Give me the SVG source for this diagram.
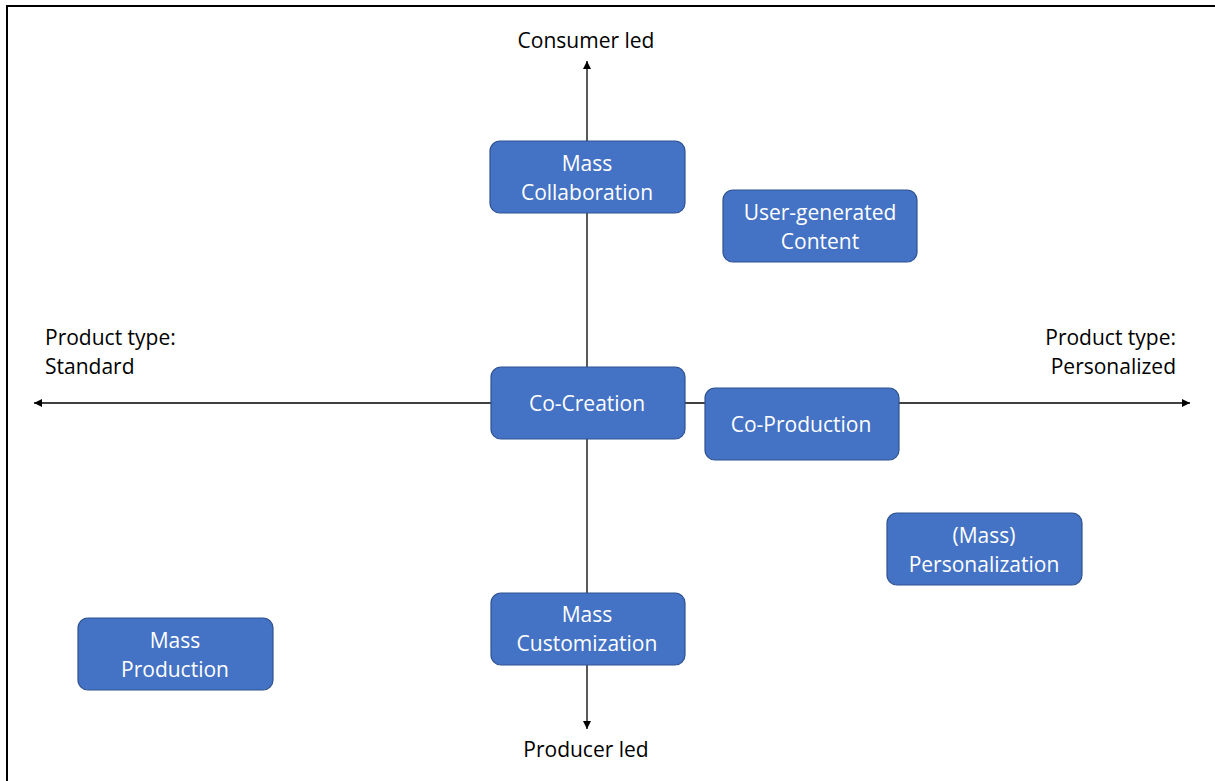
<svg xmlns="http://www.w3.org/2000/svg" width="1215" height="781" viewBox="0 0 1215 781">
  <defs>
    <marker id="arrow" viewBox="0 0 10 10" refX="10" refY="5" markerWidth="8" markerHeight="8" markerUnits="userSpaceOnUse" orient="auto-start-reverse">
      <path d="M0,0 L10,5 L0,10 Z" fill="#000"/>
    </marker>
    <style>
      .box { fill: #4472C4; stroke: #2F528F; stroke-width: 1.2; }
      .lbl { font-family: "Open Sans", "Noto Sans", sans-serif; font-size: 21px; fill: #ffffff; text-anchor: middle; }
      .axis-lbl { font-family: "Open Sans", "Noto Sans", sans-serif; font-size: 21px; fill: #000000; }
      .axis { stroke: #000; stroke-width: 1.3; fill: none; }
    </style>
  </defs>
  <rect width="1215" height="781" fill="#ffffff"/>
  <!-- frame: top and left edges -->
  <path d="M7,781 L7,6 L1215,6" fill="none" stroke="#000" stroke-width="2"/>

  <g id="connectors">
    <line class="axis" x1="587" y1="61" x2="587" y2="729" marker-start="url(#arrow)" marker-end="url(#arrow)"/>
    <line class="axis" x1="34" y1="403" x2="1190" y2="403" marker-start="url(#arrow)" marker-end="url(#arrow)"/>
  </g>

  <g id="axis-labels">
    <text class="axis-lbl" x="586" y="48" text-anchor="middle">Consumer led</text>
    <text class="axis-lbl" x="586" y="757" text-anchor="middle">Producer led</text>
    <text class="axis-lbl" x="45" y="345">Product type:</text>
    <text class="axis-lbl" x="45" y="374">Standard</text>
    <text class="axis-lbl" x="1176" y="345" text-anchor="end">Product type:</text>
    <text class="axis-lbl" x="1176" y="374" text-anchor="end">Personalized</text>
  </g>

  <g id="mass-collaboration">
    <rect class="box" x="490" y="141" width="195" height="72" rx="10"/>
    <text class="lbl" x="587" y="171">Mass</text>
    <text class="lbl" x="587" y="200">Collaboration</text>
  </g>
  <g id="user-generated-content">
    <rect class="box" x="723" y="190" width="194" height="72" rx="10"/>
    <text class="lbl" x="820" y="220">User-generated</text>
    <text class="lbl" x="820" y="249">Content</text>
  </g>
  <g id="co-creation">
    <rect class="box" x="491" y="367" width="194" height="72" rx="10"/>
    <text class="lbl" x="587" y="411">Co-Creation</text>
  </g>
  <g id="co-production">
    <rect class="box" x="705" y="388" width="194" height="72" rx="10"/>
    <text class="lbl" x="801" y="432">Co-Production</text>
  </g>
  <g id="mass-personalization">
    <rect class="box" x="887" y="513" width="195" height="72" rx="10"/>
    <text class="lbl" x="984" y="543">(Mass)</text>
    <text class="lbl" x="984" y="572">Personalization</text>
  </g>
  <g id="mass-customization">
    <rect class="box" x="491" y="593" width="194" height="72" rx="10"/>
    <text class="lbl" x="587" y="622">Mass</text>
    <text class="lbl" x="587" y="651">Customization</text>
  </g>
  <g id="mass-production">
    <rect class="box" x="78" y="618" width="195" height="72" rx="10"/>
    <text class="lbl" x="175" y="648">Mass</text>
    <text class="lbl" x="175" y="677">Production</text>
  </g>
</svg>
